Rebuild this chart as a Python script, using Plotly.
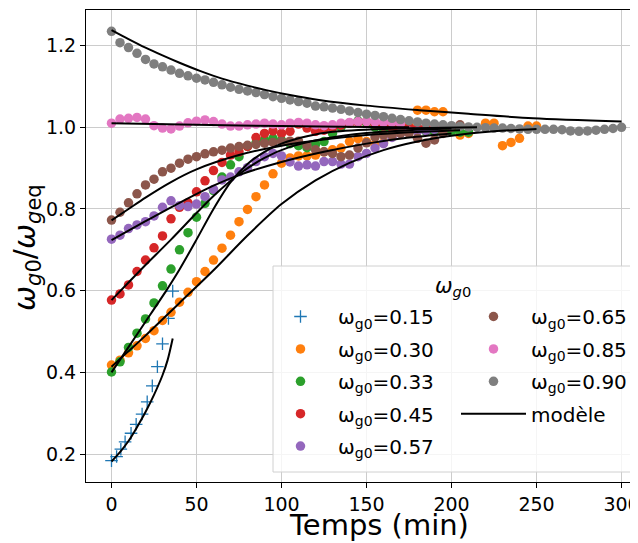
import plotly.graph_objects as go

# ---------------- data ----------------
t_015 = [0, 3, 5.5, 8, 11.5, 14.5, 18, 21, 24, 27, 30, 33.5, 36]
y_015 = [0.184, 0.194, 0.212, 0.230, 0.251, 0.273, 0.298, 0.328, 0.367, 0.414, 0.470, 0.532, 0.599]

t_030 = [0, 5, 10, 15, 20, 25, 30, 35, 40, 45, 50, 55, 60, 65, 70, 75, 80, 85, 90, 95,
         100, 105, 110, 115, 120, 125, 130, 135, 140, 145, 150, 155, 160, 165, 170, 175,
         180, 185, 190, 195, 205, 210, 220, 225, 230, 235, 240, 245, 250]
y_030 = [0.418, 0.430, 0.448, 0.465, 0.483, 0.502, 0.527, 0.547, 0.572, 0.596, 0.622, 0.647,
         0.675, 0.704, 0.736, 0.769, 0.799, 0.830, 0.859, 0.886, 0.912, 0.925, 0.930, 0.930,
         0.932, 0.940, 0.945, 0.949, 0.965, 0.972, 0.965, 0.958, 0.962, 0.977, 0.995, 1.006,
         1.042, 1.042, 1.038, 1.038, 0.981, 0.985, 1.010, 1.010, 0.955, 0.963, 0.973, 1.003, 1.003]

t_033 = [0, 5, 10, 15, 20, 25, 30, 35, 40, 45, 50, 55, 60, 65, 70, 75, 80, 85, 90, 95,
         100, 105, 110, 115, 120, 125, 130, 135, 140, 145, 150, 155, 160, 165, 170, 175,
         180, 185, 190, 195, 200, 205, 210]
y_033 = [0.401, 0.426, 0.461, 0.496, 0.531, 0.570, 0.612, 0.653, 0.700, 0.742, 0.780, 0.814,
         0.845, 0.878, 0.908, 0.928, 0.953, 0.962, 0.969, 0.973, 0.968, 0.960, 0.955, 0.950,
         0.958, 0.965, 0.985, 1.000, 1.010, 1.016, 1.010, 1.000, 0.995, 0.990, 0.990, 0.992,
         0.995, 0.990, 0.988, 0.990, 0.990, 0.988, 0.988]

t_045 = [0, 5, 10, 15, 20, 25, 30, 35, 40, 45, 50, 55, 60, 65, 70, 75, 80, 85, 90, 95,
         100, 105, 110, 115, 120, 125, 130, 135, 140, 145, 150, 155, 160, 165, 170, 175,
         180, 185, 190]
y_045 = [0.577, 0.592, 0.614, 0.647, 0.675, 0.705, 0.734, 0.776, 0.804, 0.815, 0.842, 0.869,
         0.894, 0.914, 0.932, 0.940, 0.953, 0.975, 0.985, 0.991, 0.985, 0.990, 1.008, 0.998,
         0.990, 0.993, 0.998, 1.005, 1.010, 1.012, 1.014, 1.008, 1.003, 1.000, 0.998, 0.999,
         1.000, 0.998, 0.997]

t_057 = [0, 5, 10, 15, 20, 25, 30, 35, 40, 45, 50, 55, 60, 65, 70, 75, 80, 85, 90, 95,
         100, 105, 110, 115, 120, 125, 130, 135, 140, 145, 150, 155, 160, 165, 170, 175,
         180, 185, 190]
y_057 = [0.726, 0.736, 0.752, 0.761, 0.769, 0.783, 0.804, 0.820, 0.808, 0.806, 0.812, 0.830,
         0.848, 0.871, 0.878, 0.891, 0.901, 0.916, 0.928, 0.936, 0.930, 0.915, 0.905, 0.908,
         0.905, 0.916, 0.916, 0.910, 0.910, 0.928, 0.936, 0.949, 0.960, 0.975, 0.985, 0.990,
         0.990, 0.992, 0.995]

t_065 = [0, 5, 10, 15, 20, 25, 30, 35, 40, 45, 50, 55, 60, 65, 70, 75, 80, 85, 90, 95,
         100, 105, 110, 115, 120, 125, 130, 135, 140, 145, 150, 155, 160, 165, 170, 175,
         180, 185, 190, 195, 200, 205]
y_065 = [0.773, 0.792, 0.815, 0.837, 0.859, 0.873, 0.891, 0.900, 0.912, 0.922, 0.928, 0.935,
         0.940, 0.944, 0.949, 0.953, 0.956, 0.958, 0.961, 0.963, 0.965, 0.966, 0.966, 0.955,
         0.945, 0.940, 0.936, 0.928, 0.932, 0.949, 0.962, 0.976, 0.981, 0.981, 0.985, 0.985,
         0.973, 0.961, 0.969, 0.985, 1.000, 1.006]

t_085 = [0, 5, 10, 15, 20, 25, 30, 35, 40, 45, 50, 55, 60, 65, 70, 75, 80, 85, 90, 95,
         100, 105, 110, 115, 120, 125, 130, 135, 140, 145, 150, 155, 160, 165, 170]
y_085 = [1.010, 1.020, 1.022, 1.024, 1.020, 1.004, 0.998, 0.996, 1.003, 1.011, 1.015, 1.018,
         1.014, 1.008, 1.003, 1.003, 1.006, 1.008, 1.010, 1.008, 1.006, 1.010, 1.012, 1.010,
         1.006, 1.004, 1.006, 1.010, 1.012, 1.014, 1.014, 1.013, 1.012, 1.012, 1.010]

t_090 = [0, 5, 10, 15, 20, 25, 30, 35, 40, 45, 50, 55, 60, 65, 70, 75, 80, 85, 90, 95,
         100, 105, 110, 115, 120, 125, 130, 135, 140, 145, 150, 155, 160, 165, 170, 175,
         180, 185, 190, 195, 200, 205, 210, 215, 220, 225, 230, 235, 240, 245, 250, 255,
         260, 265, 270, 275, 280, 285, 290, 295, 300]
y_090 = [1.235, 1.207, 1.195, 1.181, 1.166, 1.155, 1.148, 1.140, 1.132, 1.126, 1.120, 1.116,
         1.110, 1.104, 1.098, 1.093, 1.089, 1.085, 1.080, 1.075, 1.071, 1.067, 1.063, 1.059,
         1.052, 1.050, 1.047, 1.044, 1.040, 1.036, 1.032, 1.029, 1.026, 1.022, 1.019, 1.016,
         1.013, 1.010, 1.008, 1.006, 1.004, 1.002, 1.001, 1.000, 0.999, 0.998, 0.998, 0.997,
         0.996, 0.995, 0.995, 0.995, 0.995, 0.994, 0.991, 0.990, 0.991, 0.993, 0.995, 0.997, 1.000]

# model curves
tm_015 = [0, 5, 10, 15, 20, 25, 30, 33, 36]
ym_015 = [0.182, 0.205, 0.232, 0.266, 0.303, 0.345, 0.393, 0.430, 0.483]
tm_030 = [0, 20, 40, 60, 80, 100, 120, 140, 160, 180, 200, 225, 250]
ym_030 = [0.414, 0.490, 0.570, 0.650, 0.735, 0.812, 0.870, 0.913, 0.944, 0.965, 0.979, 0.990, 0.996]
tm_033 = [0, 10, 20, 32.5, 40, 50, 60, 70, 80, 90, 100, 115, 130, 160, 215]
ym_033 = [0.400, 0.462, 0.524, 0.602, 0.652, 0.725, 0.800, 0.865, 0.910, 0.940, 0.960, 0.978, 0.989, 0.996, 1.000]
tm_045 = [0, 10, 20, 35, 50, 60, 75, 90, 105, 125, 150, 175, 200]
ym_045 = [0.577, 0.620, 0.663, 0.725, 0.790, 0.832, 0.885, 0.925, 0.952, 0.972, 0.986, 0.993, 0.997]
tm_057 = [0, 20, 40, 60, 75, 100, 125, 150, 175, 200]
ym_057 = [0.724, 0.770, 0.815, 0.857, 0.883, 0.915, 0.940, 0.960, 0.975, 0.985]
tm_065 = [0, 10, 20, 35, 50, 75, 100, 125, 150, 175, 205]
ym_065 = [0.772, 0.800, 0.828, 0.866, 0.897, 0.932, 0.955, 0.970, 0.981, 0.988, 0.993]
tm_085 = [0, 50, 100, 150, 175]
ym_085 = [1.010, 1.006, 1.003, 1.001, 1.000]
tm_090 = [0, 10, 20, 30, 40, 52, 65, 80, 91, 105, 122, 150, 181, 210, 248, 300]
ym_090 = [1.238, 1.216, 1.195, 1.176, 1.158, 1.138, 1.119, 1.102, 1.091, 1.079, 1.067, 1.053, 1.042, 1.033, 1.022, 1.014]

labels = ["0.15", "0.30", "0.33", "0.45", "0.57", "0.65", "0.85", "0.90"]
colors = ["#1f77b4", "#ff7f0e", "#2ca02c", "#d62728", "#9467bd", "#8c564b", "#e377c2", "#7f7f7f"]
data_t = [t_015, t_030, t_033, t_045, t_057, t_065, t_085, t_090]
data_y = [y_015, y_030, y_033, y_045, y_057, y_065, y_085, y_090]
model_t = [tm_015, tm_030, tm_033, tm_045, tm_057, tm_065, tm_085, tm_090]
model_y = [ym_015, ym_030, ym_033, ym_045, ym_057, ym_065, ym_085, ym_090]

# ---------------- figure ----------------
# the page body adds an 8px offset, so the figure is drawn 8px smaller
OFF = 8
W, H = 638 - OFF, 543 - OFF
# plot area in window pixels: x 86..638, y 10..482
ML, MT = 86 - OFF, 10 - OFF
PW, PH = 552, 472
MR = W - ML - PW
MB = H - MT - PH

def px_x(p):
    return (p - 86) / PW

def px_y(p):
    return (482 - p) / PH

fig = go.Figure()

for i, (lab, col, tt, yy) in enumerate(zip(labels, colors, data_t, data_y)):
    leg = "legend" if i < 5 else "legend2"
    if i == 0:
        marker = dict(symbol="cross-thin", size=9, line=dict(color=col, width=1.3), color=col)
    else:
        marker = dict(symbol="circle", size=9.5, color=col, line=dict(width=0))
    fig.add_trace(go.Scatter(
        x=tt, y=yy, mode="markers", marker=marker,
        name="ω<sub>g0</sub>=" + lab, legend=leg, legendgroup="g" + str(i),
    ))

for i, (tt, yy) in enumerate(zip(model_t, model_y)):
    fig.add_trace(go.Scatter(
        x=tt, y=yy, mode="lines", line=dict(color="black", width=2, shape="spline", smoothing=0.8),
        name="modèle", legend="legend2", legendgroup="model", showlegend=(i == 0),
    ))

# legend frame and title
fig.add_shape(type="rect", xref="paper", yref="paper",
              x0=px_x(273), x1=px_x(636), y0=px_y(472), y1=px_y(266),
              line=dict(color="#d0d0d0", width=1), fillcolor="rgba(255,255,255,0.8)", layer="above")
fig.add_annotation(xref="paper", yref="paper", x=px_x(453), y=px_y(287),
                   text="<i>ω</i><sub><i>g</i>0</sub>", showarrow=False,
                   font=dict(size=21, color="black", family="DejaVu Sans"),
                   xanchor="center", yanchor="middle")

# axis titles
fig.add_annotation(xref="paper", yref="paper", x=px_x(379), y=px_y(525),
                   text="Temps (min)", showarrow=False,
                   font=dict(size=29, color="black", family="DejaVu Sans"),
                   xanchor="center", yanchor="middle")
fig.add_annotation(xref="paper", yref="paper", x=px_x(26), y=px_y(248),
                   text="<i>ω</i><sub><i>g</i>0</sub>/<i>ω</i><sub><i>g</i>eq</sub>", showarrow=False,
                   textangle=-90,
                   font=dict(size=30, color="black", family="DejaVu Sans"),
                   xanchor="center", yanchor="middle")

legfont = dict(size=20, color="black", family="DejaVu Sans")
fig.update_layout(
    width=W, height=H,
    margin=dict(l=ML, r=MR, t=MT, b=MB, autoexpand=False),
    paper_bgcolor="white", plot_bgcolor="white",
    font=dict(family="DejaVu Sans", color="black", size=19),
    legend=dict(x=px_x(263), y=px_y(297), xanchor="left", yanchor="top",
                bgcolor="rgba(0,0,0,0)", borderwidth=0, font=legfont,
                tracegroupgap=3.4, itemwidth=65, traceorder="grouped"),
    legend2=dict(x=px_x(456), y=px_y(297), xanchor="left", yanchor="top",
                 bgcolor="rgba(0,0,0,0)", borderwidth=0, font=legfont,
                 tracegroupgap=3.4, itemwidth=65, traceorder="grouped"),
    xaxis=dict(range=[-15, 309.7], tickvals=[0, 50, 100, 150, 200, 250, 300],
               showgrid=True, gridcolor="#cccccc", gridwidth=1, zeroline=False,
               showline=True, linecolor="black", linewidth=1.2, mirror=True,
               ticks="outside", ticklen=5, tickcolor="black", automargin=False,
               ticklabeloverflow="allow", tickfont=dict(size=19)),
    yaxis=dict(range=[0.1317, 1.2871], tickvals=[0.2, 0.4, 0.6, 0.8, 1.0, 1.2],
               ticktext=["0.2", "0.4", "0.6", "0.8", "1.0", "1.2"],
               showgrid=True, gridcolor="#cccccc", gridwidth=1, zeroline=False,
               showline=True, linecolor="black", linewidth=1.2, mirror=False,
               ticks="outside", ticklen=5, tickcolor="black", automargin=False,
               tickfont=dict(size=19)),
    showlegend=True,
)

fig.write_html("out.html")
